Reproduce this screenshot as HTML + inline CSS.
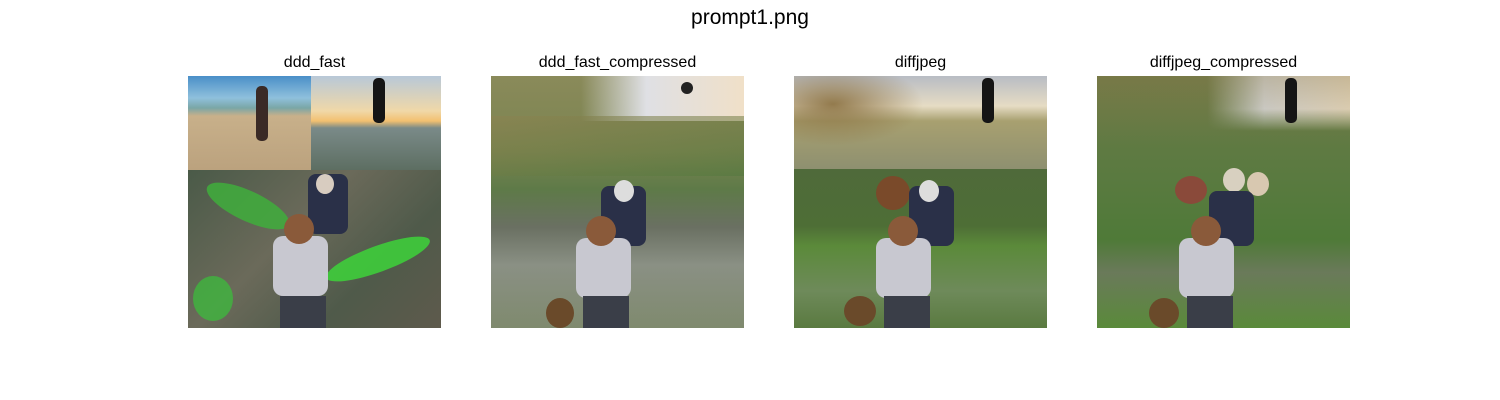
<!DOCTYPE html>
<html><head><meta charset="utf-8"><style>
body{margin:0;width:1500px;height:400px;background:#fff;position:relative;overflow:hidden;font-family:"Liberation Sans","DejaVu Sans",sans-serif}
.t{position:absolute;text-align:center;color:#000}
.img{position:absolute;top:76px;width:253px;height:252px;overflow:hidden}
.b{position:absolute}
</style></head><body>
<div class="t" style="left:0;width:1500px;top:6px;font-size:21px">prompt1.png</div>

<div class="t" style="left:188px;width:253px;top:54px;font-size:16px">ddd_fast</div>
<div class="t" style="left:491px;width:253px;top:54px;font-size:16px">ddd_fast_compressed</div>
<div class="t" style="left:794px;width:253px;top:54px;font-size:16px">diffjpeg</div>
<div class="t" style="left:1097px;width:253px;top:54px;font-size:16px">diffjpeg_compressed</div>

<!-- image 1 -->
<div class="img" style="left:188px;background:#5a5a50">
 <div class="b" style="left:0;top:0;width:123px;height:94px;background:linear-gradient(#4a8fc8 0,#8fc0dc 22px,#7aa6a6 32px,#c8b08a 40px,#bba27e 94px)"></div>
 <div class="b" style="left:123px;top:0;width:130px;height:94px;background:linear-gradient(#b8c8d8 0,#f0d8a8 35px,#f2c070 45px,#7a8a88 52px,#5d6e62 94px)"></div>
 <div class="b" style="left:185px;top:2px;width:12px;height:45px;background:#151515;border-radius:5px"></div>
 <div class="b" style="left:68px;top:10px;width:12px;height:55px;background:#3a2a26;border-radius:5px"></div>
 <div class="b" style="left:0;top:94px;width:253px;height:158px;background:linear-gradient(135deg,#4a5a48,#6b6a5a 40%,#4f5a4a 70%,#5e5a4c)"></div>
 <div class="b" style="left:15px;top:115px;width:90px;height:30px;background:#3fae3c;border-radius:50%;transform:rotate(25deg);opacity:.85"></div>
 <div class="b" style="left:135px;top:170px;width:110px;height:26px;background:#3dd43a;border-radius:50%;transform:rotate(-20deg);opacity:.85"></div>
 <div class="b" style="left:5px;top:200px;width:40px;height:45px;background:#39c23a;border-radius:50%;opacity:.7"></div>
 <div class="b" style="left:120px;top:98px;width:40px;height:60px;background:#2a3048;border-radius:8px"></div>
 <div class="b" style="left:128px;top:98px;width:18px;height:20px;background:#d8ccc0;border-radius:50%"></div>
 <div class="b" style="left:85px;top:160px;width:55px;height:60px;background:#c8c8d0;border-radius:10px"></div>
 <div class="b" style="left:96px;top:138px;width:30px;height:30px;background:#8a5a3a;border-radius:50%"></div>
 <div class="b" style="left:92px;top:220px;width:46px;height:32px;background:#3a3e48"></div>
</div>

<!-- image 2 -->
<div class="img" style="left:491px;background:linear-gradient(#8a8a5a 0,#7a8450 30%,#5e7a48 45%,#6a7062 60%,#8a9084 75%,#7f8a6e 100%)">
 <div class="b" style="left:90px;top:0;width:163px;height:45px;background:linear-gradient(90deg,rgba(200,205,215,0),#dfe0e4 40%,#f0e0c8)"></div>
 <div class="b" style="left:190px;top:6px;width:12px;height:12px;background:#222;border-radius:50%"></div>
 <div class="b" style="left:0;top:40px;width:253px;height:60px;background:linear-gradient(170deg,rgba(140,130,80,.6),rgba(80,120,60,.5))"></div>
 <div class="b" style="left:110px;top:110px;width:45px;height:60px;background:#2a3048;border-radius:8px"></div>
 <div class="b" style="left:123px;top:104px;width:20px;height:22px;background:#ddd;border-radius:50%"></div>
 <div class="b" style="left:85px;top:162px;width:55px;height:60px;background:#c8c8d0;border-radius:10px"></div>
 <div class="b" style="left:95px;top:140px;width:30px;height:30px;background:#8a5a3a;border-radius:50%"></div>
 <div class="b" style="left:92px;top:220px;width:46px;height:32px;background:#3a3e48"></div>
 <div class="b" style="left:55px;top:222px;width:28px;height:30px;background:#6a4a2a;border-radius:50%"></div>
</div>

<!-- image 3 -->
<div class="img" style="left:794px;background:linear-gradient(#4f6a3a 94px,#4e6e36 150px,#5b8a3a 170px,#6e8a5a 215px,#5a7a40 252px)">
 <div class="b" style="left:0;top:0;width:253px;height:93px;background:linear-gradient(#b8bcc4 0,#e6dcc4 30px,#a8a070 45px,#8e9070 93px)"></div>
 <div class="b" style="left:0;top:0;width:130px;height:70px;background:radial-gradient(ellipse at 30% 40%,rgba(138,112,64,.9),rgba(140,120,70,0) 70%)"></div>
 <div class="b" style="left:188px;top:2px;width:12px;height:45px;background:#151515;border-radius:5px"></div>
 <div class="b" style="left:82px;top:100px;width:34px;height:34px;background:#7a4a2a;border-radius:50%"></div>
 <div class="b" style="left:115px;top:110px;width:45px;height:60px;background:#2a3048;border-radius:8px"></div>
 <div class="b" style="left:125px;top:104px;width:20px;height:22px;background:#ddd;border-radius:50%"></div>
 <div class="b" style="left:82px;top:162px;width:55px;height:60px;background:#c8c8d0;border-radius:10px"></div>
 <div class="b" style="left:94px;top:140px;width:30px;height:30px;background:#8a5a3a;border-radius:50%"></div>
 <div class="b" style="left:90px;top:220px;width:46px;height:32px;background:#3a3e48"></div>
 <div class="b" style="left:50px;top:220px;width:32px;height:30px;background:#6a4a2a;border-radius:50%"></div>
</div>

<!-- image 4 -->
<div class="img" style="left:1097px;background:linear-gradient(#6a7a48 0,#5a7a40 40%,#4f7a38 65%,#6a7a5a 78%,#5a8a3a 100%)">
 <div class="b" style="left:110px;top:0;width:143px;height:55px;background:linear-gradient(90deg,rgba(210,210,215,0),#dadde2 40%,#efe2cc);-webkit-mask:linear-gradient(#000 60%,transparent);mask:linear-gradient(#000 60%,transparent)"></div>
 <div class="b" style="left:0;top:0;width:253px;height:70px;background:linear-gradient(rgba(140,120,70,.4),rgba(140,120,70,0))"></div>
 <div class="b" style="left:188px;top:2px;width:12px;height:45px;background:#151515;border-radius:5px"></div>
 <div class="b" style="left:78px;top:100px;width:32px;height:28px;background:#8a4a3a;border-radius:50%"></div>
 <div class="b" style="left:126px;top:92px;width:22px;height:24px;background:#d8d0c0;border-radius:50%"></div>
 <div class="b" style="left:150px;top:96px;width:22px;height:24px;background:#d8c8b0;border-radius:50%"></div>
 <div class="b" style="left:112px;top:115px;width:45px;height:55px;background:#2a3048;border-radius:8px"></div>
 <div class="b" style="left:82px;top:162px;width:55px;height:60px;background:#c8c8d0;border-radius:10px"></div>
 <div class="b" style="left:94px;top:140px;width:30px;height:30px;background:#8a5a3a;border-radius:50%"></div>
 <div class="b" style="left:90px;top:220px;width:46px;height:32px;background:#3a3e48"></div>
 <div class="b" style="left:52px;top:222px;width:30px;height:30px;background:#6a4a2a;border-radius:50%"></div>
</div>
</body></html>
